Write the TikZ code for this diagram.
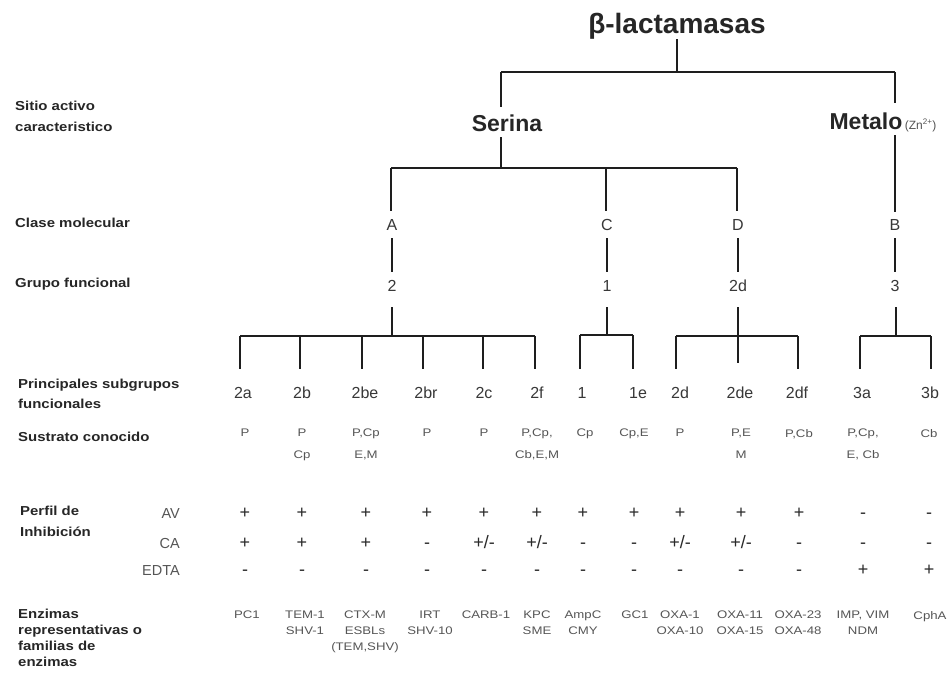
\documentclass[tikz,border=0pt]{standalone}
\usepackage{fontspec}
\setmainfont{Liberation Sans}
\newfontfamily\labfont[FakeStretch=1.15]{Liberation Sans}
\newfontfamily\valfont[FakeStretch=1.2]{Liberation Sans}
\definecolor{linec}{HTML}{1E1E1E}
\definecolor{labc}{HTML}{262626}
\definecolor{sgc}{HTML}{383838}
\definecolor{valc}{HTML}{555555}
\definecolor{signc}{HTML}{2A2A2A}
\begin{document}
\begin{tikzpicture}[x=1pt,y=-1pt,
  tree/.style={draw=linec, line width=1.6pt},
  lefttxt/.style={anchor=north west, inner sep=0pt, text=labc, align=left},
  sglab/.style={anchor=base, inner sep=0pt, font=\fontsize{16}{16}\selectfont, text=sgc},
  valtxt/.style={anchor=north, inner sep=0pt, align=center, text=valc},
  signtxt/.style={anchor=base, inner sep=0pt, font=\fontsize{18}{18}\selectfont, text=signc},
  inhlab/.style={anchor=base east, inner sep=0pt, font=\fontsize{14.5}{14.5}\selectfont, text=valc}
]
\useasboundingbox (0,0) rectangle (951,681);
\fill[white] (0,0) rectangle (951,681);

% ---- titles
\node[anchor=base, inner sep=0pt, font=\bfseries\fontsize{28}{28}\selectfont, text=labc] (ttl) at (677,33) {β-lactamasas};
\node[anchor=base, inner sep=0pt, font=\bfseries\fontsize{23}{23}\selectfont, text=labc] (ser) at (507,131) {Serina};
\node[anchor=base, inner sep=0pt, font=\bfseries\fontsize{23}{23}\selectfont, text=labc] (met) at (866,129) {Metalo};
\node[anchor=base west, inner sep=0pt, font=\fontsize{12}{12}\selectfont, text=valc] (zn) at ([xshift=2pt]met.base east) {(Zn\textsuperscript{2+})};

% ---- left labels
\node[lefttxt, font=\labfont\bfseries\fontsize{13}{21}\selectfont] (lsit) at (15,101) {Sitio activo\\caracteristico};
\node[lefttxt, font=\labfont\bfseries\fontsize{13}{21}\selectfont] (lcla) at (15,218) {Clase molecular};
\node[lefttxt, font=\labfont\bfseries\fontsize{13}{21}\selectfont] (lgru) at (15,278) {Grupo funcional};
\node[lefttxt, font=\labfont\bfseries\fontsize{13}{20}\selectfont] (lpri) at (18,379) {Principales subgrupos\\funcionales};
\node[lefttxt, font=\labfont\bfseries\fontsize{13}{21}\selectfont] (lsus) at (18,432) {Sustrato conocido};
\node[lefttxt, font=\labfont\bfseries\fontsize{13}{21}\selectfont] (lper) at (20,506) {Perfil de\\Inhibición};
\node[lefttxt, font=\labfont\bfseries\fontsize{13}{16}\selectfont] (lenz) at (18,609) {Enzimas\\representativas o\\familias de\\enzimas};

% ---- inhibitor labels
\node[inhlab] (iav) at (180,518) {AV};
\node[inhlab] (ica) at (180,548) {CA};
\node[inhlab] (ied) at (180,575) {EDTA};

% ---- class / group labels
\foreach \n/\x/\t in {ka/392/A, kc/607/C, kd/738/D, kb/895/B}
  \node[sglab] (\n) at (\x,230) {\t};
\foreach \n/\x/\t in {ga/392/2, gc/607/1, gd/738/2d, gb/895/3}
  \node[sglab] (\n) at (\x,291) {\t};

% ---- subgroup labels
\foreach \x/\t [count=\i] in {243/2a,302/2b,365/2be,426/2br,484/2c,537/2f,582/1,638/1e,680/2d,740/2de,797/2df,862/3a,930/3b}
  \node[sglab] (sg\i) at (\x,398) {\t};

% ---- substrates
\foreach \x/\t [count=\i] in {245/{P},302/{P\\Cp},366/{P,Cp\\E,M},427/{P},484/{P},537/{P,Cp,\\Cb,E,M},585/{Cp},634/{Cp,E},680/{P},741/{P,E\\M},799/{P,Cb},863/{P,Cp,\\E, Cb},929/{Cb}}
  \node[valtxt, font=\valfont\fontsize{11}{22}\selectfont] (su\i) at (\x,429) {\t};

% ---- inhibition signs
\foreach \x/\t [count=\i] in {245/{+},302/{+},366/{+},427/{+},484/{+},537/{+},583/{+},634/{+},680/{+},741/{+},799/{+},863/{-},929/{-}}
  \node[signtxt] (av\i) at (\x,518) {\t};
\foreach \x/\t [count=\i] in {245/{+},302/{+},366/{+},427/{-},484/{+/-},537/{+/-},583/{-},634/{-},680/{+/-},741/{+/-},799/{-},863/{-},929/{-}}
  \node[signtxt] (ca\i) at (\x,548) {\t};
\foreach \x/\t [count=\i] in {245/{-},302/{-},366/{-},427/{-},484/{-},537/{-},583/{-},634/{-},680/{-},741/{-},799/{-},863/{+},929/{+}}
  \node[signtxt] (ed\i) at (\x,575) {\t};

% ---- enzymes
\foreach \x/\t [count=\i] in {247/{PC1},305/{TEM-1\\SHV-1},365/{CTX-M\\ESBLs\\(TEM,SHV)},430/{IRT\\SHV-10},486/{CARB-1},537/{KPC\\SME},583/{AmpC\\CMY},635/{GC1},680/{OXA-1\\OXA-10},740/{OXA-11\\OXA-15},798/{OXA-23\\OXA-48},863/{IMP, VIM\\NDM},930/{CphA}}
  \node[valtxt, font=\valfont\fontsize{11}{16}\selectfont] (en\i) at (\x,611) {\t};

% ---- tree coordinates
\coordinate (t0) at (677,39);  \coordinate (t1) at (677,72);
\coordinate (tl) at (501,72);  \coordinate (tr) at (895,72);
\coordinate (s0) at (501,107); \coordinate (s1) at (501,137); \coordinate (s2) at (501,168);
\coordinate (m0) at (895,103); \coordinate (m1) at (895,135); \coordinate (m2) at (895,212);
\coordinate (b2l) at (391,168); \coordinate (b2m) at (606,168); \coordinate (b2r) at (737,168);
\coordinate (pa) at (391,211); \coordinate (pc) at (606,211); \coordinate (pd) at (737,211);

\draw[tree] (t0) -- (t1);
\draw[tree] (tl) -- (tr);
\draw[tree] (tl) -- (s0);
\draw[tree] (tr) -- (m0);
\draw[tree] (s1) -- (s2);
\draw[tree] (m1) -- (m2);
\draw[tree] (b2l) -- (b2r);
\draw[tree] (b2l) -- (pa);
\draw[tree] (b2m) -- (pc);
\draw[tree] (b2r) -- (pd);

% class -> group stems
\foreach \x [count=\i] in {392,607,738,895}{
  \coordinate (u\i) at (\x,238); \coordinate (v\i) at (\x,272);
  \draw[tree] (u\i) -- (v\i);
}
% group -> bars
\coordinate (wa) at (392,307); \coordinate (wc) at (607,307); \coordinate (wd) at (738,307); \coordinate (wb) at (896,307);
\coordinate (ba) at (392,336); \coordinate (bc) at (607,335); \coordinate (bd) at (738,363); \coordinate (bb) at (896,336);
\draw[tree] (wa) -- (ba);
\draw[tree] (wc) -- (bc);
\draw[tree] (wd) -- (bd);
\draw[tree] (wb) -- (bb);

% bars
\coordinate (al) at (240,336); \coordinate (ar) at (535,336);
\coordinate (cl) at (580,335); \coordinate (cr) at (633,335);
\coordinate (dl) at (676,336); \coordinate (dr) at (798,336);
\coordinate (el) at (860,336); \coordinate (er) at (931,336);
\draw[tree] (al) -- (ar);
\draw[tree] (cl) -- (cr);
\draw[tree] (dl) -- (dr);
\draw[tree] (el) -- (er);

% drops
\foreach \x/\y [count=\i] in {240/336,300/336,362/336,423/336,483/336,535/336,580/335,633/335,676/336,798/336,860/336,931/336}{
  \coordinate (dt\i) at (\x,\y); \coordinate (db\i) at (\x,369);
  \draw[tree] (dt\i) -- (db\i);
}
\end{tikzpicture}
\end{document}
